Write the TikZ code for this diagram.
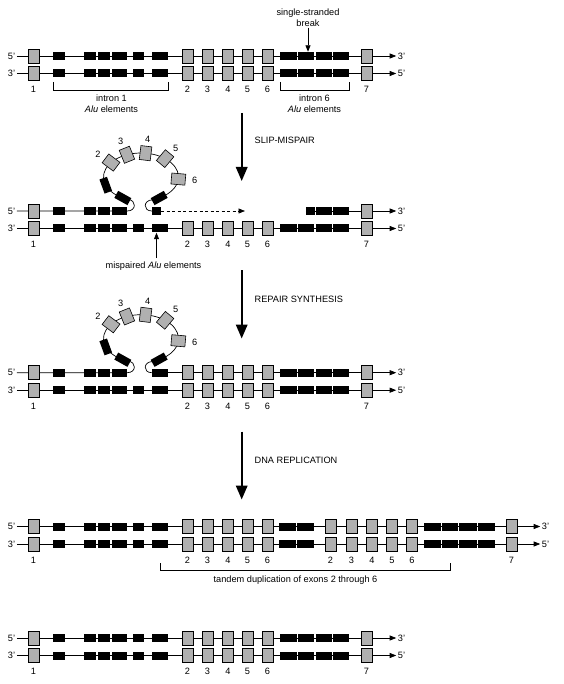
\documentclass[tikz,border=0pt]{standalone}
\usepackage{fontspec}
\setmainfont{Liberation Sans}
\usetikzlibrary{arrows.meta, calc, positioning, backgrounds}
\definecolor{exongray}{RGB}{176,176,176}
\newcommand{\lblfont}{\fontsize{9.2}{11}\selectfont}

\begin{document}
\begin{tikzpicture}[x=1pt, y=-1pt, font=\lblfont,
    exon/.style={draw, fill=exongray, line width=0.6pt, minimum width=11pt, minimum height=14pt, inner sep=0pt},
    alu/.style={fill=black, minimum height=8pt, inner sep=0pt},
    strand/.style={line width=0.7pt},
    endtip/.style={-{Triangle[length=6.5pt,width=5pt]}},
    endlbl/.style={inner sep=1.5pt},
    numlbl/.style={inner sep=0pt},
    bracket/.style={line width=0.6pt},
    stagearrow/.style={line width=1.9pt, -{Triangle[length=14pt,width=11.5pt]}}]
    \useasboundingbox (0,0) rectangle (563,684);

    \foreach \n/\y/\ltxt/\rtxt in {r1t/56/5'/3', r1b/73.5/3'/5', r2b/228.5/3'/5', r3b/390.2/3'/5', r5t/638/5'/3', r5b/655.5/3'/5'} {
        \node[endlbl] (\n-l) at (11.5,\y) {\ltxt};
        \node[endlbl] (\n-r) at (401.5,\y) {\rtxt};
        \foreach \i/\x in {1/33.5, 2/187.5, 3/207.5, 4/228, 5/247.5, 6/267.5, 7/366.5}
            \node[exon] (\n-e\i) at (\x,\y) {};
        \foreach \i/\x/\w in {1/59/12, 2/90/12, 3/104/12, 4/119.5/15, 5/138.5/11, 6/160.2/16.5, 7/288.5/16.5, 8/306/16.5, 9/324/16.5, 10/341/16.5}
            \node[alu, minimum width=\w pt] (\n-a\i) at (\x,\y) {};
        \begin{scope}[on background layer]
            \draw[strand, endtip] (\n-l) -- (\n-r);
        \end{scope}
    }
    \foreach \n in {r1b, r2b, r3b, r5b}
        \foreach \i in {1,...,7}
            \node[numlbl, below=5.5pt of \n-e\i] (\n-n\i) {\i};

    \draw[bracket] ($(r1b-a1.west)+(0,8.5)$) -- ($(r1b-a1.west)+(0,16.5)$) -- ($(r1b-a6.east)+(0,16.5)$) -- ($(r1b-a6.east)+(0,8.5)$);
    \draw[bracket] ($(r1b-a7.west)+(0,8.5)$) -- ($(r1b-a7.west)+(0,16.5)$) -- ($(r1b-a10.east)+(0,16.5)$) -- ($(r1b-a10.east)+(0,8.5)$);
    \node[align=center] (intr1) at (111.5,104) {intron 1\\\textit{Alu} elements};
    \node[align=center] (intr6) at (314.5,104) {intron 6\\\textit{Alu} elements};
    \node[align=center, inner sep=1pt] (ssb) at (308,17.5) {single-stranded\\break};
    \draw[line width=0.8pt, endtip] (ssb.south) -- (ssb.south |- r1t-a8.north);

    \node[alu, minimum width=9pt] (r2t-a6) at (156.5,211) {};
    \node[alu, minimum width=16.5pt] (r3t-a6) at (160.2,372.7) {};
    \foreach \n/\y in {r2t/211, r3t/372.7} {
        \node[endlbl] (\n-l) at (11.5,\y) {5'};
        \coordinate (\n-c) at (141,\y-34);
        \node[exon] (\n-e1) at (33.5,\y) {};
        \foreach \i/\x/\w in {1/59/12, 2/90/12, 3/104/12, 4/119.5/15}
            \node[alu, minimum width=\w pt] (\n-a\i) at (\x,\y) {};
        \foreach \a/\i in {143/2, 112/3, 83/4, 50/5, -5/6} {
            \node[exon, rotate=\a-90] (\n-e\i) at ($(\n-c)+(\a:37.5pt and 24pt)$) {};
            \node[numlbl] (\n-n\i) at ($(\n-c)+(\a:54pt and 38pt)$) {\i};
        }
        \foreach \a/\i in {200/1, 241/2, 299/3}
            \node[alu, minimum width=15pt, rotate=\a-90] (\n-k\i) at ($(\n-c)+(\a:37.5pt and 24pt)$) {};
        \begin{scope}[on background layer]
            \draw[strand] (\n-l) -- (\n-a4.east) .. controls +(9.5,0) and (136.5,\y-11) .. ($(\n-c)+(250:37.5pt and 24pt)$)
                arc[start angle=250, end angle=-72, x radius=37.5pt, y radius=24pt]
                .. controls (143,\y-11) and +(-9,0) .. (\n-a6.west);
        \end{scope}
    }

    \coordinate (r2t-d) at (245,211);
    \draw[strand, dash pattern=on 3pt off 2.5pt, endtip] (r2t-a6) -- (r2t-d);
    \node[endlbl] (r2t-r) at (401.5,211) {3'};
    \node[exon] (r2t-e7) at (366.5,211) {};
    \foreach \i/\x/\w in {8/310.5/9, 9/324/16.5, 10/341/16.5}
        \node[alu, minimum width=\w pt] (r2t-a\i) at (\x,211) {};
    \begin{scope}[on background layer]
        \draw[strand, endtip] (r2t-a8.west) -- (r2t-r);
    \end{scope}
    \node (mis) at (153.5,266) {mispaired \textit{Alu} elements};
    \draw[line width=0.8pt, endtip] ([xshift=3pt]mis.north) -- ([xshift=3pt]mis.north |- r2b-a6.south);

    \node[endlbl] (r3t-r) at (401.5,372.7) {3'};
    \foreach \i/\x in {2/187.5, 3/207.5, 4/228, 5/247.5, 6/267.5}
        \node[exon] (r3t-s\i) at (\x,372.7) {};
    \node[exon] (r3t-e7) at (366.5,372.7) {};
    \foreach \i/\x in {7/288.5, 8/306, 9/324, 10/341}
        \node[alu, minimum width=16.5pt] (r3t-a\i) at (\x,372.7) {};
    \begin{scope}[on background layer]
        \draw[strand, endtip] (r3t-a6.west) -- (r3t-r);
    \end{scope}

    \foreach \n/\y/\ltxt/\rtxt in {r4t/526.5/5'/3', r4b/544/3'/5'} {
        \node[endlbl] (\n-l) at (11.5,\y) {\ltxt};
        \node[endlbl] (\n-r) at (545.5,\y) {\rtxt};
        \foreach \i/\x in {1/33.5, 2/187.5, 3/207.5, 4/228, 5/247.5, 6/267.5, 7/511.5}
            \node[exon] (\n-e\i) at (\x,\y) {};
        \foreach \i/\x in {2/330.5, 3/351.5, 4/372, 5/392, 6/412}
            \node[exon] (\n-q\i) at (\x,\y) {};
        \foreach \i/\x/\w in {1/59/12, 2/90/12, 3/104/12, 4/119.5/15, 5/138.5/11, 6/160.2/16.5, 7/287.5/17, 8/305.5/17}
            \node[alu, minimum width=\w pt] (\n-a\i) at (\x,\y) {};
        \foreach \i/\x/\w in {1/432.5/17, 2/450/16, 3/468.2/17.5, 4/486.5/17}
            \node[alu, minimum width=\w pt] (\n-b\i) at (\x,\y) {};
        \begin{scope}[on background layer]
            \draw[strand, endtip] (\n-l) -- (\n-r);
        \end{scope}
    }
    \foreach \i in {1,...,7}
        \node[numlbl, below=5.5pt of r4b-e\i] (r4b-n\i) {\i};
    \foreach \i in {2,...,6}
        \node[numlbl, below=5.5pt of r4b-q\i] (r4b-m\i) {\i};
    \draw[bracket] ($(r4b-a6)+(0,19)$) -- ($(r4b-a6)+(0,26)$) -- ($(r4b-b2)+(0,26)$) -- ($(r4b-b2)+(0,19)$);
    \node (tandem) at (295.5,580) {tandem duplication of exons 2 through 6};

    \foreach \n/\ya/\yb/\yt/\txt in {slip/113/181/140/SLIP-MISPAIR, repair/270/338.5/299/REPAIR SYNTHESIS, repl/431.5/499.5/460/DNA REPLICATION} {
        \coordinate (\n-a) at (241.7,\ya);
        \coordinate (\n-b) at (241.7,\yb);
        \draw[stagearrow] (\n-a) -- (\n-b);
        \node[anchor=west, inner sep=0pt] (\n) at (254.5,\yt) {\txt};
    }
\end{tikzpicture}
\end{document}
